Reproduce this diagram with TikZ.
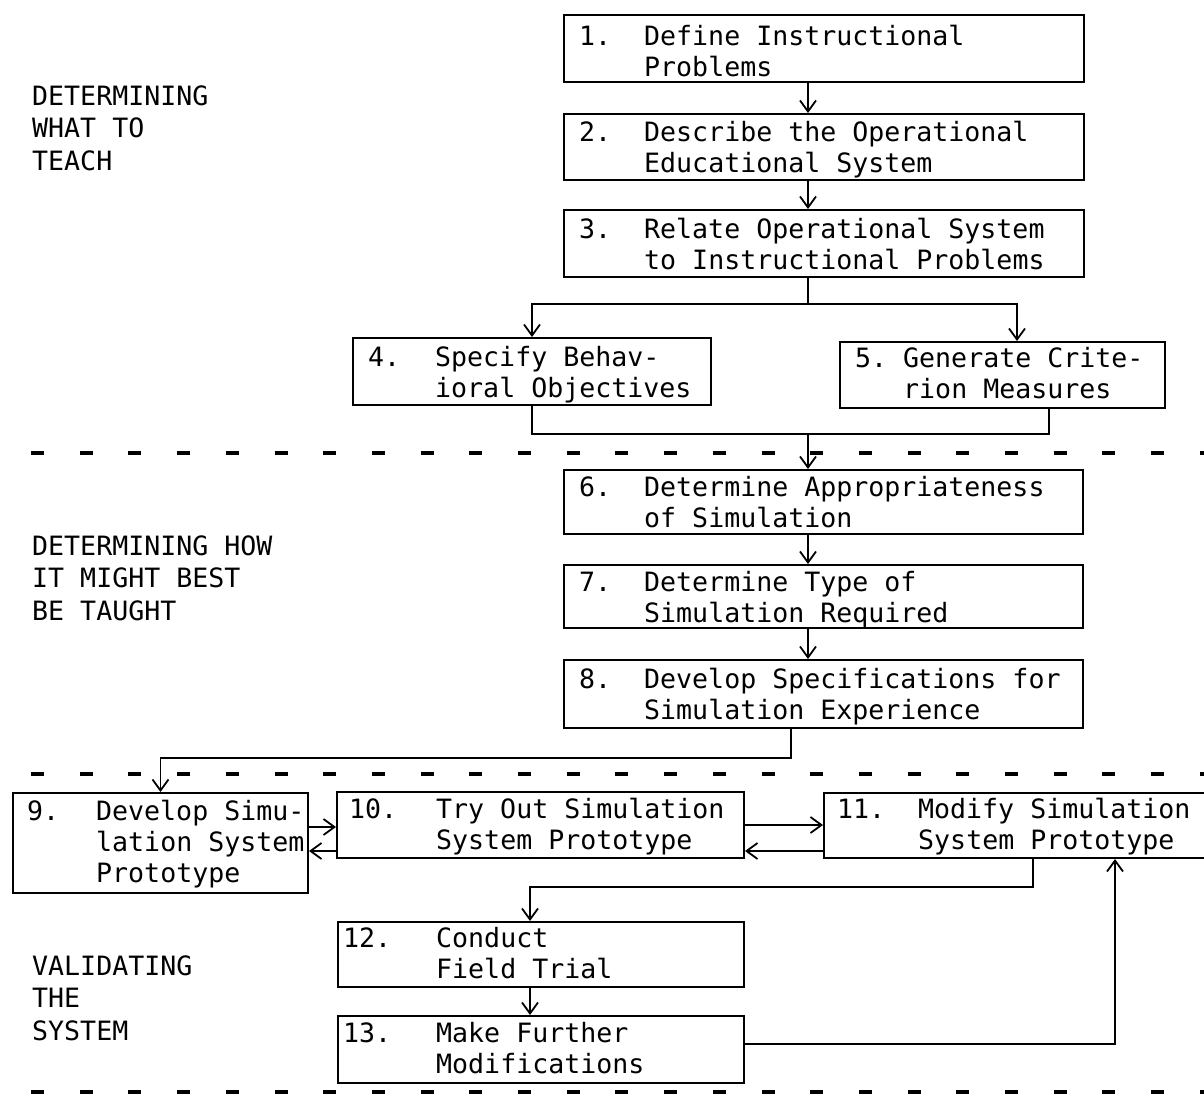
\documentclass[tikz,border=0pt]{standalone}
\usepackage{fontspec}
\newfontfamily\tw{DejaVu Sans Mono}
\usetikzlibrary{arrows.meta,calc}
\newcommand\btwo[4]{\begin{tabular}[t]{@{}l@{}l@{}}\makebox[#1pt][l]{#2}&#3\\&#4\end{tabular}}
\newcommand\bthree[5]{\begin{tabular}[t]{@{}l@{}l@{}}\makebox[#1pt][l]{#2}&#3\\&#4\\&#5\end{tabular}}
\newcommand\sidelbl[3]{\begin{tabular}[t]{@{}l@{}}#1\\#2\\#3\end{tabular}}
\tikzset{
  box/.style={draw, line width=2pt, inner sep=0pt, anchor=north west},
  lbl/.style={inner sep=0pt, anchor=base west, font=\tw\fontsize{26.6pt}{31pt}\selectfont},
  side/.style={inner sep=0pt, anchor=base west, font=\tw\fontsize{26.6pt}{32.5pt}\selectfont},
  ln/.style={line width=1.8pt},
  arr/.style={line width=1.8pt, -{Straight Barb[length=11pt,width=16pt]}},
  sepline/.style={line width=4pt, dash pattern=on 13pt off 35.7pt}
}
\begin{document}
\begin{tikzpicture}[x=1pt,y=-1pt]
\useasboundingbox (0,0) rectangle (1204,1096);

% separators
\draw[sepline] (31,453) -- (1210,453);
\draw[sepline] (31,774) -- (1210,774);
\draw[sepline] (31,1092) -- (1210,1092);

% side labels
\node[side] (s1) at (32,105) {\sidelbl{DETERMINING}{WHAT TO}{TEACH}};
\node[side] (s2) at (32,555) {\sidelbl{DETERMINING HOW}{IT MIGHT BEST}{BE TAUGHT}};
\node[side] (s3) at (32,975) {\sidelbl{VALIDATING}{THE}{SYSTEM}};

% boxes
\node[box, minimum width=520pt, minimum height=67pt] (b1) at (563,14) {};
\node[box, minimum width=520pt, minimum height=66pt] (b2) at (563,113) {};
\node[box, minimum width=520pt, minimum height=67pt] (b3) at (563,209) {};
\node[box, minimum width=358pt, minimum height=67pt] (b4) at (352,337) {};
\node[box, minimum width=325pt, minimum height=66pt] (b5) at (839,341) {};
\node[box, minimum width=519pt, minimum height=64pt] (b6) at (563,469) {};
\node[box, minimum width=519pt, minimum height=63pt] (b7) at (563,564) {};
\node[box, minimum width=519pt, minimum height=68pt] (b8) at (563,659) {};
\node[box, minimum width=295pt, minimum height=100pt] (b9) at (12,792) {};
\node[box, minimum width=407pt, minimum height=66pt] (b10) at (336,791) {};
\node[box, minimum width=385pt, minimum height=65pt] (b11) at (823,792) {};
\node[box, minimum width=406pt, minimum height=65pt] (b12) at (337,921) {};
\node[box, minimum width=406pt, minimum height=67pt] (b13) at (337,1015) {};

% texts
\node[lbl] (t1) at (579,45) {\btwo{65}{1.}{Define Instructional}{Problems}};
\node[lbl] (t2) at (579,141) {\btwo{65}{2.}{Describe the Operational}{Educational System}};
\node[lbl] (t3) at (579,238) {\btwo{65}{3.}{Relate Operational System}{to Instructional Problems}};
\node[lbl] (t4) at (368,366) {\btwo{67}{4.}{Specify Behav-}{ioral Objectives}};
\node[lbl] (t5) at (855,367) {\btwo{48}{5.}{Generate Crite-}{rion Measures}};
\node[lbl] (t6) at (579,496) {\btwo{65}{6.}{Determine Appropriateness}{of Simulation}};
\node[lbl] (t7) at (579,591) {\btwo{65}{7.}{Determine Type of}{Simulation Required}};
\node[lbl] (t8) at (579,688) {\btwo{65}{8.}{Develop Specifications for}{Simulation Experience}};
\node[lbl] (t9) at (27,820) {\bthree{69}{9.}{Develop Simu-}{lation System}{Prototype}};
\node[lbl] (t10) at (349,818) {\btwo{87}{10.}{Try Out Simulation}{System Prototype}};
\node[lbl] (t11) at (837,818) {\btwo{81}{11.}{Modify Simulation}{System Prototype}};
\node[lbl] (t12) at (343,947) {\btwo{93}{12.}{Conduct}{Field Trial}};
\node[lbl] (t13) at (343,1042) {\btwo{93}{13.}{Make Further}{Modifications}};

% helper coordinates
\coordinate (xa) at (808,0);
\coordinate (x1017) at (1017,0);
\coordinate (x1049) at (1049,0);
\coordinate (x530) at (530,0);
\coordinate (x1115) at (1115,0);
\coordinate (y827) at (0,827);
\coordinate (y825) at (0,825);
\coordinate (y851) at (0,851);
\coordinate (y1044) at (0,1044);
\coordinate (j1) at (808,304);
\coordinate (j2) at (808,434);
\coordinate (j3) at (791,758);
\coordinate (j4) at (1033,887);

% connectors
\draw[arr] (b1.south -| xa) -- (b2.north -| xa);
\draw[arr] (b2.south -| xa) -- (b3.north -| xa);
\draw[ln] (b3.south -| xa) -- (j1);
\draw[arr] (j1) -| (b4.north);
\draw[arr] (j1) -| (b5.north -| x1017);
\draw[ln] (b4.south) |- (j2);
\draw[ln] (b5.south -| x1049) |- (j2);
\draw[arr] (j2) -- (b6.north -| xa);
\draw[arr] (b6.south -| xa) -- (b7.north -| xa);
\draw[arr] (b7.south -| xa) -- (b8.north -| xa);
\draw[arr] (b8.south -| j3) -- (j3) -| (b9.north);
\draw[arr] (b9.east |- y827) -- (b10.west |- y827);
\draw[arr] (b10.west |- y851) -- (b9.east |- y851);
\draw[arr] (b10.east |- y825) -- (b11.west |- y825);
\draw[arr] (b11.west |- y851) -- (b10.east |- y851);
\draw[arr] (b11.south -| j4) -- (j4) -| (b12.north -| x530);
\draw[arr] (b12.south -| x530) -- (b13.north -| x530);
\draw[arr] (b13.east |- y1044) -| (b11.south -| x1115);
\end{tikzpicture}
\end{document}
